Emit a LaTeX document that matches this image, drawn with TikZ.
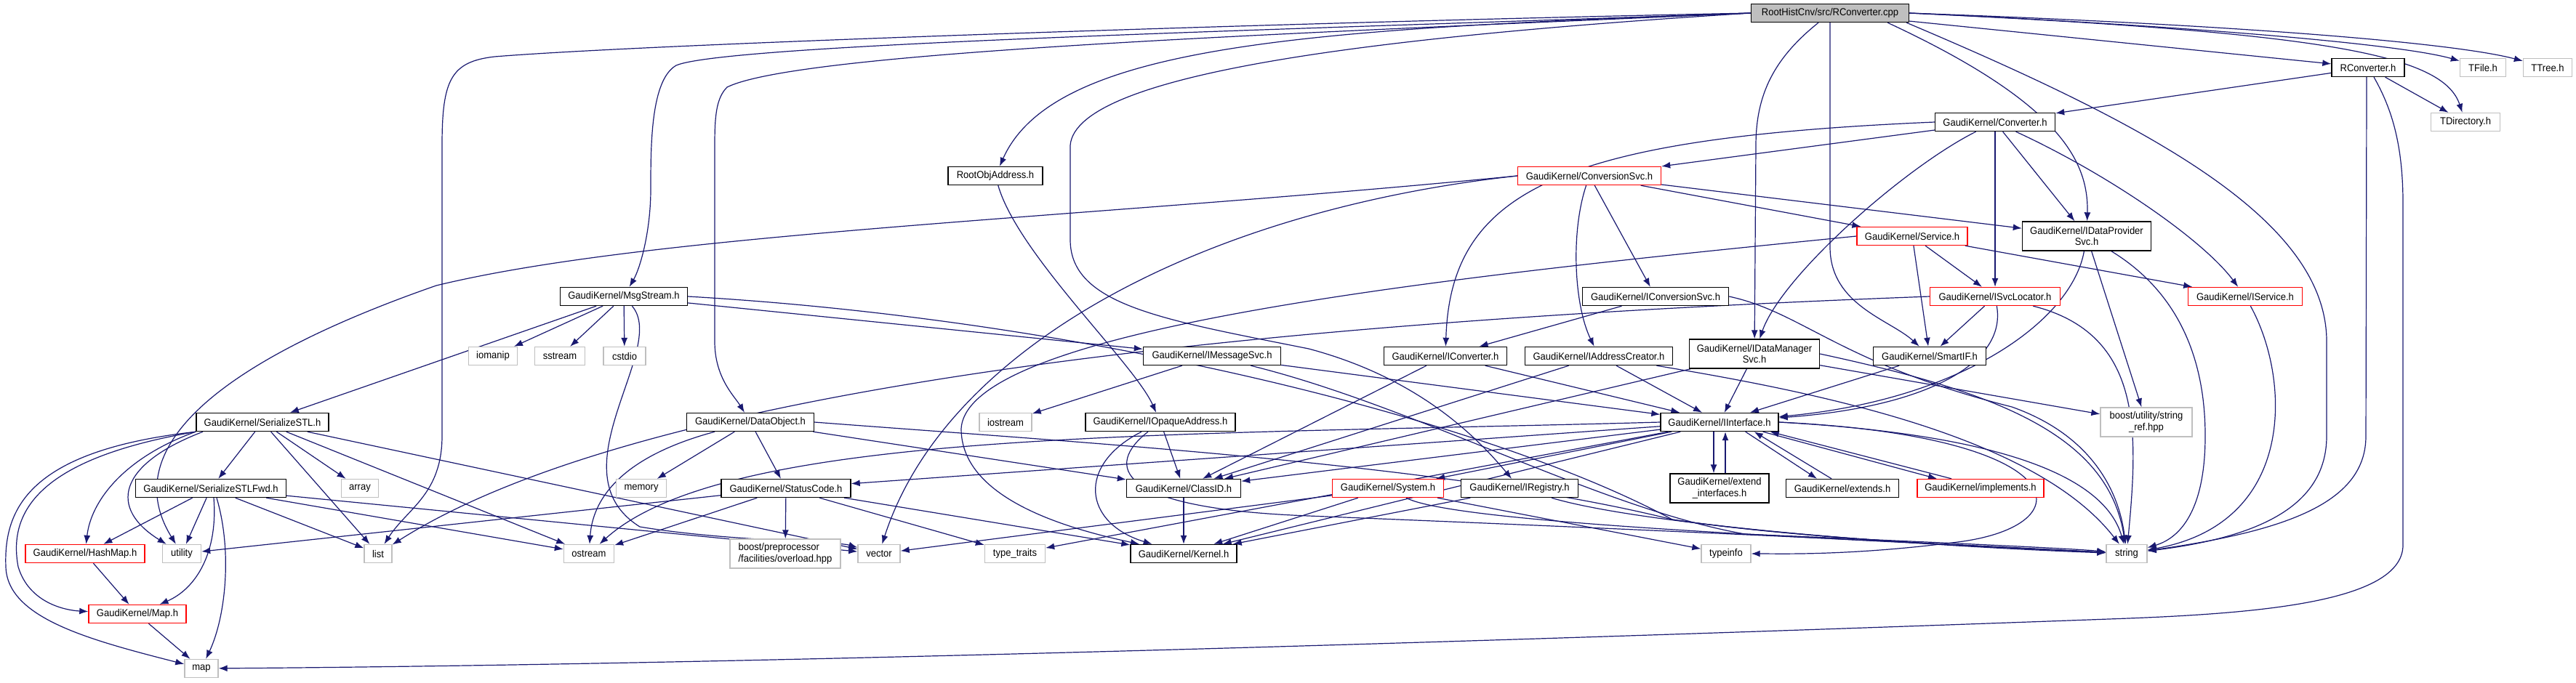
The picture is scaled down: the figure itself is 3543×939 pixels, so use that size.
\documentclass[tikz,border=0pt]{standalone}
\usepackage{fontspec}
\setmainfont{Liberation Sans}[FakeStretch=0.93]
\usetikzlibrary{arrows.meta,backgrounds}
\definecolor{edgec}{HTML}{191970}
\definecolor{extc}{HTML}{BFBFBF}
\begin{document}
\begin{tikzpicture}[x=0.5pt,y=-0.5pt,font=\fontsize{7pt}{7.8pt}\selectfont,
 nd/.style={draw=black,line width=0.7pt,fill=white,inner sep=0pt,minimum height=12.5pt,align=center},
 ext/.style={nd,draw=extc},
 trn/.style={nd,draw=red},
 two/.style={minimum height=20pt},
 e/.style={draw=edgec,line width=0.6pt,-{Latex[length=6pt,width=4.5pt]}}]
\useasboundingbox (0,0) rectangle (3543,939);
% nodes
\node[nd,fill=extc,minimum width=108.5pt] (root) at (2517,18) {RootHistCnv/src/RConverter.cpp};
\node[nd,minimum width=50pt] (rconvh) at (3257,93) {RConverter.h};
\node[ext,minimum width=31.5pt] (tfile) at (3415,93) {TFile.h};
\node[ext,minimum width=33.5pt] (ttree) at (3504,93) {TTree.h};
\node[ext,minimum width=47.5pt] (tdir) at (3391,168) {TDirectory.h};
\node[nd,minimum width=82.5pt] (conv) at (2744,168) {GaudiKernel/Converter.h};
\node[trn,minimum width=98.5pt] (convsvc) at (2186,242) {GaudiKernel/ConversionSvc.h};
\node[nd,minimum width=65pt] (rootobj) at (1369,242) {RootObjAddress.h};
\node[nd,two,minimum width=88.5pt] (dps) at (2870,325) {GaudiKernel/IDataProvider\\Svc.h};
\node[trn,minimum width=76pt] (service) at (2630,325) {GaudiKernel/Service.h};
\node[trn,minimum width=78.5pt] (iservice) at (3088,408) {GaudiKernel/IService.h};
\node[trn,minimum width=89.5pt] (isvcloc) at (2744,408) {GaudiKernel/ISvcLocator.h};
\node[nd,minimum width=87.5pt] (msgstream) at (858,408) {GaudiKernel/MsgStream.h};
\node[nd,minimum width=100.5pt] (iconvsvc) at (2277,408) {GaudiKernel/IConversionSvc.h};
\node[nd,minimum width=84.5pt] (iconverter) at (1988,490) {GaudiKernel/IConverter.h};
\node[nd,minimum width=101.5pt] (iaddr) at (2199,490) {GaudiKernel/IAddressCreator.h};
\node[nd,two,minimum width=89.5pt] (dms) at (2413,487) {GaudiKernel/IDataManager\\Svc.h};
\node[nd,minimum width=77.5pt] (smartif) at (2654,490) {GaudiKernel/SmartIF.h};
\node[nd,minimum width=94.5pt] (imsg) at (1667,490) {GaudiKernel/IMessageSvc.h};
\node[ext,minimum width=33.5pt] (iomanip) at (678,490) {iomanip};
\node[ext,minimum width=34.5pt] (sstream) at (770,490) {sstream};
\node[ext,minimum width=29pt] (cstdio) at (859,490) {cstdio};
\node[nd,minimum width=91pt] (sstl) at (361,581) {GaudiKernel/SerializeSTL.h};
\node[nd,minimum width=87.5pt] (dataobj) at (1032,581) {GaudiKernel/DataObject.h};
\node[ext,minimum width=36pt] (iostream) at (1383,581) {iostream};
\node[nd,minimum width=103pt] (iopaque) at (1596,581) {GaudiKernel/IOpaqueAddress.h};
\node[nd,minimum width=81pt] (iinterface) at (2365,581) {GaudiKernel/IInterface.h};
\node[ext,two,minimum width=63pt] (bsr) at (2952,581) {boost/utility/string\\\_ref.hpp};
\node[nd,minimum width=103.5pt] (sstlfwd) at (290,672) {GaudiKernel/SerializeSTLFwd.h};
\node[ext,minimum width=25.5pt] (array) at (495,672) {array};
\node[ext,minimum width=34.5pt] (memory) at (882,672) {memory};
\node[nd,minimum width=89pt] (statuscode) at (1081,672) {GaudiKernel/StatusCode.h};
\node[nd,minimum width=78.5pt] (classid) at (1628,672) {GaudiKernel/ClassID.h};
\node[trn,minimum width=76.5pt] (system) at (1909,672) {GaudiKernel/System.h};
\node[nd,minimum width=80.5pt] (iregistry) at (2090,672) {GaudiKernel/IRegistry.h};
\node[nd,two,minimum width=68pt] (extif) at (2365,672) {GaudiKernel/extend\\\_interfaces.h};
\node[nd,minimum width=77.5pt] (extends) at (2534,672) {GaudiKernel/extends.h};
\node[trn,minimum width=87pt] (implements) at (2724,672) {GaudiKernel/implements.h};
\node[trn,minimum width=82pt] (hashmap) at (117,762) {GaudiKernel/HashMap.h};
\node[ext,minimum width=26.5pt] (utility) at (250,762) {utility};
\node[ext,minimum width=19pt] (list) at (520,762) {list};
\node[ext,minimum width=34.5pt] (ostream) at (810,762) {ostream};
\node[ext,two,minimum width=76pt,align=left] (bpp) at (1080,762) {boost/preprocessor\\/facilities/overload.hpp};
\node[ext,minimum width=29pt] (vector) at (1209,762) {vector};
\node[ext,minimum width=41.5pt] (typetraits) at (1396,762) {type\_traits};
\node[nd,minimum width=73pt] (kernel) at (1628,762) {GaudiKernel/Kernel.h};
\node[ext,minimum width=34pt] (typeinfo) at (2374,762) {typeinfo};
\node[ext,minimum width=28pt] (string) at (2925,762) {string};
\node[trn,minimum width=67pt] (mapH) at (189,845) {GaudiKernel/Map.h};
\node[ext,minimum width=23pt] (map) at (277,920) {map};
% edges
\begin{scope}[on background layer]
% root
\draw[e] (root) -- (rconvh);
\draw[e] (root.east) .. controls (3000,35) and (3300,60) .. (tfile);
\draw[e] (root.east) .. controls (3100,35) and (3380,60) .. (ttree);
\draw[e] (root.east) .. controls (3200,45) and (3360,75) .. (tdir);
\draw[e] ([xshift=-15pt]root.south east) .. controls (2830,140) and (2873,220) .. (dps);
\draw[e] ([xshift=-2pt]root.south east) .. controls (2950,170) and (3200,300) .. (3200,470) -- (3200,600) .. controls (3200,700) and (3100,740) .. (string);
\draw[e] (root.south) -- (2517,340) .. controls (2517,420) and (2600,440) .. (smartif);
\draw[e] ([xshift=-8pt]root.south) .. controls (2440,80) and (2415,130) .. (2415,200) -- (dms);
\draw[e] (root.west) .. controls (1800,30) and (900,60) .. (680,78) .. controls (620,85) and (608,110) .. (608,200) -- (608,600) .. controls (608,680) and (560,700) .. (list);
\draw[e] (root.west) .. controls (1800,40) and (1000,60) .. (930,90) .. controls (895,110) and (895,200) .. (895,260) .. controls (895,320) and (880,370) .. (msgstream);
\draw[e] (root.west) .. controls (1800,45) and (1100,70) .. (1000,120) .. controls (985,135) and (983,160) .. (983,200) -- (983,470) .. controls (983,520) and (1010,545) .. (dataobj);
\draw[e] (root.west) .. controls (1800,40) and (1450,60) .. (rootobj);
\draw[e] (root.west) .. controls (1900,50) and (1480,100) .. (1472,200) -- (1472,330) .. controls (1472,420) and (1600,440) .. (1800,480) .. controls (1950,520) and (2030,600) .. (iregistry);
% RConverter.h
\draw[e] (rconvh) -- (conv);
\draw[e] (rconvh) -- (tdir);
\draw[e] ([xshift=-1pt]rconvh.south) -- (3254,600) .. controls (3254,690) and (3150,730) .. (string);
\draw[e] ([xshift=4pt]rconvh.south) .. controls (3290,150) and (3305,200) .. (3305,280) -- (3305,750) .. controls (3305,830) and (3100,845) .. (2900,852) .. controls (2000,885) and (1000,915) .. (map);
% Converter.h
\draw[e] (conv.west) .. controls (2150,190) and (1995,260) .. (iconverter);
\draw[e] (conv) -- (convsvc);
\draw[e] (conv) .. controls (2620,230) and (2450,380) .. (dms);
\draw[e] (conv) -- (isvcloc);
\draw[e] (conv) -- (dps);
\draw[e] (conv) .. controls (2900,240) and (3030,330) .. (iservice);
% ConversionSvc.h
\draw[e] (convsvc.west) .. controls (1500,300) and (900,320) .. (600,393) .. controls (350,480) and (150,600) .. (utility);
\draw[e] (convsvc.west) .. controls (1650,290) and (1300,480) .. (vector);
\draw[e] (convsvc) .. controls (2160,320) and (2165,420) .. (iaddr);
\draw[e] (convsvc) -- (iconvsvc);
\draw[e] (convsvc) -- (dps);
\draw[e] (convsvc) -- (service);
% IDataProviderSvc.h
\draw[e] (dps) .. controls (2850,440) and (2700,550) .. (iinterface);
\draw[e] (dps) -- (bsr);
\draw[e] (dps) .. controls (2960,380) and (3033,450) .. (3033,600) .. controls (3033,700) and (3000,740) .. (string);
% Service.h
\draw[e] (service) -- (isvcloc);
\draw[e] (service) -- (smartif);
\draw[e] (service) -- (iservice);
\draw[e] (service.west) .. controls (2000,380) and (1330,450) .. (1322,590) .. controls (1322,690) and (1480,730) .. (kernel);
% IService.h
\draw[e] (iservice) .. controls (3150,520) and (3160,720) .. (string);
% ISvcLocator.h
\draw[e] (isvcloc) -- (smartif);
\draw[e] (isvcloc) .. controls (2760,500) and (2650,560) .. (iinterface);
\draw[e] (isvcloc) .. controls (2950,460) and (2940,600) .. (string);
\draw[e] (isvcloc.west) .. controls (1800,440) and (900,520) .. (list);
% RootObjAddress.h
\draw[e] (rootobj) .. controls (1400,350) and (1560,500) .. (iopaque);
% MsgStream.h
\draw[e] (msgstream) -- (imsg);
\draw[e] (msgstream) -- (sstl);
\draw[e] (msgstream) -- (iomanip);
\draw[e] (msgstream) -- (sstream);
\draw[e] (msgstream) -- (cstdio);
\draw[e] (msgstream) .. controls (920,480) and (760,650) .. (880,725) .. controls (1000,745) and (1150,745) .. (vector);
\draw[e] (msgstream.east) .. controls (1500,440) and (2050,580) .. (2300,715) .. controls (2500,745) and (2800,755) .. (string);
% IConversionSvc.h
\draw[e] (iconvsvc) -- (iconverter);
\draw[e] (iconvsvc.east) .. controls (2480,430) and (2530,500) .. (2767,560) .. controls (2880,600) and (2915,680) .. (string);
% IConverter.h
\draw[e] (iconverter) -- (classid);
\draw[e] (iconverter) -- (iinterface);
% IAddressCreator.h
\draw[e] (iaddr) -- (classid);
\draw[e] (iaddr) -- (iinterface);
\draw[e] (iaddr) .. controls (2500,540) and (2800,600) .. (string);
% IDataManagerSvc.h
\draw[e] (dms) -- (iinterface);
\draw[e] (dms) -- (classid);
\draw[e] (dms) -- (bsr);
\draw[e] (dms.east) .. controls (2750,540) and (2900,600) .. (string);
% SmartIF.h
\draw[e] (smartif) -- (iinterface);
% IMessageSvc.h
\draw[e] (imsg) -- (iostream);
\draw[e] (imsg) -- (iinterface);
\draw[e] (imsg) .. controls (1950,560) and (2200,700) .. (2400,735) .. controls (2700,748) and (2850,755) .. (string);
% SerializeSTL.h
\draw[e] (sstl) -- (sstlfwd);
\draw[e] (sstl) -- (array);
\draw[e] (sstl) -- (list);
\draw[e] ([xshift=-46pt]sstl.south) .. controls (170,630) and (125,690) .. (hashmap);
\draw[e] ([xshift=-41pt]sstl.south) .. controls (160,640) and (150,700) .. (utility);
\draw[e] (sstl.south west) .. controls (60,630) and (10,700) .. (25,780) .. controls (40,830) and (90,840) .. (mapH);
\draw[e] (sstl.south west) .. controls (40,620) and (5,700) .. (8,780) .. controls (10,850) and (120,880) .. (map);
\draw[e] (sstl) -- (ostream);
\draw[e] (sstl) -- (vector);
% SerializeSTLFwd.h
\draw[e] (sstlfwd) -- (hashmap);
\draw[e] (sstlfwd) -- (utility);
\draw[e] (sstlfwd) -- (list);
\draw[e] (sstlfwd) -- (ostream);
\draw[e] (sstlfwd) -- (vector);
\draw[e] ([xshift=2pt]sstlfwd.south) .. controls (300,760) and (270,810) .. (mapH);
\draw[e] ([xshift=4pt]sstlfwd.south) .. controls (320,760) and (310,850) .. (map);
\draw[e] (hashmap) -- (mapH);
\draw[e] (mapH) -- (map);
% DataObject.h
\draw[e] (dataobj) .. controls (850,630) and (815,690) .. (ostream);
\draw[e] (dataobj) -- (memory);
\draw[e] (dataobj) -- (statuscode);
\draw[e] (dataobj) -- (classid);
\draw[e] (dataobj.east) .. controls (1500,610) and (2000,640) .. (2300,715) .. controls (2500,745) and (2800,755) .. (string);
% StatusCode.h
\draw[e] (statuscode) -- (utility);
\draw[e] (statuscode) -- (ostream);
\draw[e] (statuscode) -- (bpp);
\draw[e] (statuscode) -- (typetraits);
\draw[e] (statuscode) -- (kernel);
% IOpaqueAddress.h
\draw[e] (iopaque) -- (classid);
\draw[e] (iopaque) .. controls (1480,640) and (1490,720) .. (kernel);
\draw[e] (iopaque) .. controls (1520,640) and (1530,700) .. (1800,710) .. controls (2300,730) and (2750,752) .. (string);
% ClassID.h
\draw[e] (classid) -- (kernel);
% IInterface.h
\draw[e] (iinterface) -- (classid);
\draw[e] (iinterface) -- (kernel);
\draw[e] (iinterface) -- (statuscode);
\draw[e] (iinterface) -- (system);
\draw[e] (iinterface.west) .. controls (1600,600) and (1000,590) .. (ostream);
\draw[e] (iinterface) -- (typetraits);
\draw[e] (iinterface.east) .. controls (2850,600) and (2870,720) .. (2700,745) .. controls (2550,765) and (2450,762) .. (typeinfo);
\draw[e] (iinterface.east) .. controls (2700,595) and (2890,640) .. (string);
\draw[e] ([xshift=-4pt]iinterface.south) -- ([xshift=-4pt]extif.north);
\draw[e] ([xshift=4pt]extif.north) -- ([xshift=4pt]iinterface.south);
\draw[e] ([xshift=-23pt]iinterface.south east) -- ([xshift=-17.5pt]extends.north);
\draw[e] ([xshift=-7.5pt]extends.north) -- ([xshift=-17pt]iinterface.south east);
\draw[e] ([xshift=-11pt]iinterface.south east) -- ([xshift=-30pt]implements.north);
\draw[e] ([xshift=-20pt]implements.north) -- ([xshift=-6pt]iinterface.south east);
% System.h
\draw[e] (system) -- (vector);
\draw[e] (system) -- (kernel);
\draw[e] (system) -- (typeinfo);
\draw[e] (system) .. controls (2000,720) and (2500,740) .. (string);
% IRegistry.h
\draw[e] (iregistry) -- (kernel);
\draw[e] (iregistry) .. controls (2250,720) and (2600,750) .. (string);
\end{scope}
\end{tikzpicture}
\end{document}
